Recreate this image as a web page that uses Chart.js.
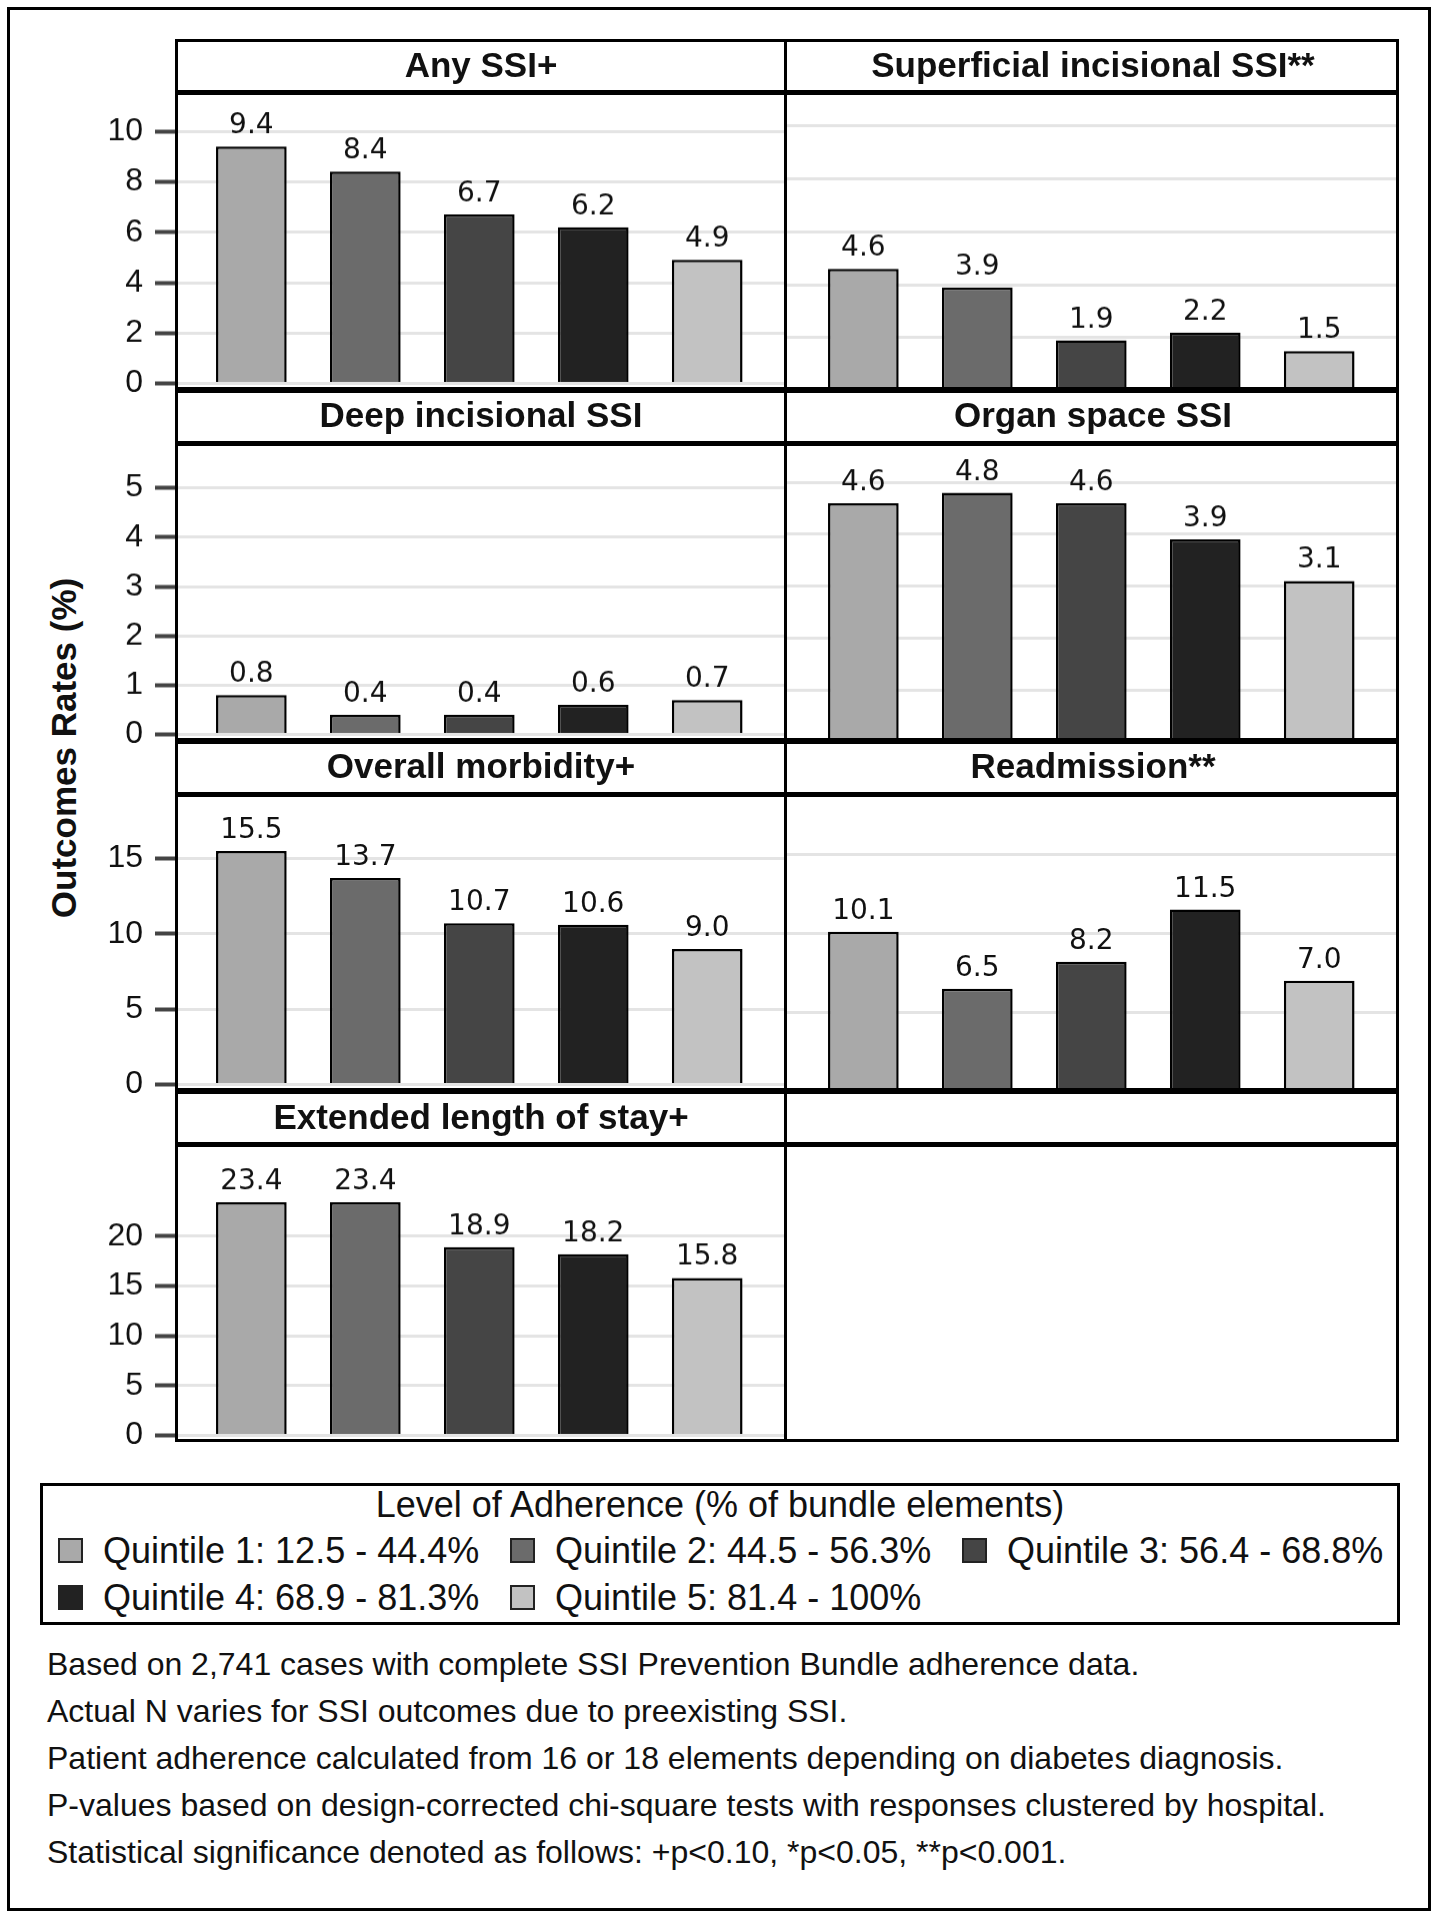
<!DOCTYPE html>
<html>
<head>
<meta charset="utf-8">
<script src="https://cdn.jsdelivr.net/npm/chart.js@4.4.1/dist/chart.umd.min.js"></script>
<style>
  body { margin: 0; background: #fff; font-family: "Liberation Sans", Arial, sans-serif; color: #111; }
  #page { position: relative; width: 1440px; height: 1920px; overflow: hidden; }
  .frame { position: absolute; border: 3px solid #000; box-sizing: border-box; pointer-events: none; z-index: 2; }
  .head { position: absolute; box-sizing: border-box; border-bottom: 5px solid #000; display: flex;
          align-items: center; justify-content: center; font-weight: bold; font-size: 35px; z-index: 2; }
  .holder { position: absolute; z-index: 1; }
  .ytitle { position: absolute; width: 500px; text-align: center; font-weight: bold; font-size: 35px;
            transform: translate(-50%, -50%) rotate(-90deg); white-space: nowrap; }
  .legend { position: absolute; border: 3px solid #000; box-sizing: border-box; }
  .ltext { position: absolute; font-size: 36px; line-height: 36px; white-space: nowrap; }
  .swatch { position: absolute; width: 25px; height: 25px; box-sizing: border-box; border: 2px solid #222; }
  .note { position: absolute; left: 47px; font-size: 32px; line-height: 32px; white-space: nowrap; }
</style>
</head>
<body>
<div id="page"></div>
<script>
// data
const panelTitles = ['Any SSI+', 'Superficial incisional SSI**', 'Deep incisional SSI', 'Organ space SSI',
                     'Overall morbidity+', 'Readmission**', 'Extended length of stay+', ''];
const anySSI = [9.4, 8.4, 6.7, 6.2, 4.9];
const superficialSSI = [4.6, 3.9, 1.9, 2.2, 1.5];
const deepSSI = [0.8, 0.4, 0.4, 0.6, 0.7];
const organSpaceSSI = [4.6, 4.8, 4.6, 3.9, 3.1];
const overallMorbidity = [15.5, 13.7, 10.7, 10.6, 9.0];
const readmission = [10.1, 6.5, 8.2, 11.5, 7.0];
const extendedStay = [23.4, 23.4, 18.9, 18.2, 15.8];
const quintiles = ['Quintile 1: 12.5 - 44.4%', 'Quintile 2: 44.5 - 56.3%', 'Quintile 3: 56.4 - 68.8%',
                   'Quintile 4: 68.9 - 81.3%', 'Quintile 5: 81.4 - 100%'];
const rowMax = [11.15, 5.7, 18.6, 28.2];
const rowTicks = [[0, 2, 4, 6, 8, 10], [0, 1, 2, 3, 4, 5], [0, 5, 10, 15], [0, 5, 10, 15, 20]];
const legendTitle = 'Level of Adherence (% of bundle elements)';
const yTitle = 'Outcomes Rates (%)';
const footnotes = [
  'Based on 2,741 cases with complete SSI Prevention Bundle adherence data.',
  'Actual N varies for SSI outcomes due to preexisting SSI.',
  'Patient adherence calculated from 16 or 18 elements depending on diabetes diagnosis.',
  'P-values based on design-corrected chi-square tests with responses clustered by hospital.',
  'Statistical significance denoted as follows: +p<0.10, *p<0.05, **p<0.001.'
];

const seriesByPanel = [anySSI, superficialSSI, deepSSI, organSpaceSSI, overallMorbidity, readmission, extendedStay];
const barColors = ['#a9a9a9', '#6b6b6b', '#454545', '#222222', '#c2c2c2'];

Chart.defaults.font.family = '"Liberation Sans", Arial, sans-serif';
Chart.defaults.color = '#111';

// page geometry
const page = document.getElementById('page');
const colLeft = [175, 787];
const colWidth = 612;
const rowTop = [39, 389.75, 740.5, 1091.25];
const rowBottom = [389.75, 740.5, 1091.25, 1442];
const headerH = 56;
const axisW = 135;
const pad = 24;

function addDiv(cls, css, text) {
  const d = document.createElement('div');
  d.className = cls;
  Object.assign(d.style, css);
  if (text !== undefined) d.textContent = text;
  page.appendChild(d);
  return d;
}

// value printed above each bar
const valueLabels = {
  id: 'valueLabels',
  afterDatasetsDraw(chart) {
    const ctx = chart.ctx;
    const ds = chart.data.datasets[0];
    ctx.save();
    ctx.font = '28px "DejaVu Sans", sans-serif';
    ctx.fillStyle = '#111';
    ctx.textAlign = 'center';
    ctx.textBaseline = 'alphabetic';
    chart.getDatasetMeta(0).data.forEach((bar, i) => {
      ctx.fillText(ds.data[i].y.toFixed(1), bar.x, bar.y - 13);
    });
    ctx.restore();
  }
};

function makeChart(i, r, c) {
  const left = colLeft[c] - (c === 0 ? axisW : 0);
  const top = rowTop[r] + headerH - pad;
  const holder = addDiv('holder', {
    left: left + 'px', top: top + 'px',
    width: (colWidth + (c === 0 ? axisW : 0)) + 'px',
    height: (rowBottom[r] - rowTop[r] - headerH + 2 * pad) + 'px'
  });
  const canvas = document.createElement('canvas');
  holder.appendChild(canvas);

  new Chart(canvas, {
    type: 'bar',
    data: {
      datasets: [{
        data: seriesByPanel[i].map((v, k) => ({ x: k, y: v })),
        backgroundColor: barColors,
        borderColor: '#000',
        borderWidth: 2.5,
        barPercentage: 0.62,
        categoryPercentage: 1
      }]
    },
    options: {
      responsive: true,
      maintainAspectRatio: false,
      animation: false,
      layout: { padding: { top: pad, bottom: pad, left: 0, right: 0 } },
      plugins: { legend: { display: false }, tooltip: { enabled: false } },
      scales: {
        x: {
          type: 'linear', min: -0.67, max: 4.70, offset: false, display: false,
          afterBuildTicks: s => { s.ticks = seriesByPanel[i].map((v, k) => ({ value: k })); }
        },
        y: {
          min: 0,
          max: rowMax[r],
          afterBuildTicks: s => { s.ticks = rowTicks[r].map(v => ({ value: v })); },
          afterFit: s => { s.width = c === 0 ? axisW : 0; },
          ticks: { display: c === 0, color: '#111', font: { size: 32 }, padding: 12 },
          grid: { color: '#e4e4e4', lineWidth: 3, drawTicks: c === 0, tickLength: 20,
                  tickColor: '#444', tickWidth: 4 },
          border: { display: false }
        }
      }
    },
    plugins: [valueLabels]
  });
}

for (let r = 0; r < 4; r++) {
  for (let c = 0; c < 2; c++) {
    const i = r * 2 + c;
    const x = colLeft[c];
    const fr = addDiv('frame', { left: x + 'px', top: rowTop[r] + 'px', width: colWidth + 'px',
                                 height: (rowBottom[r] - rowTop[r]) + 'px' });
    if (c === 1) fr.style.borderLeft = 'none';
    addDiv('head', { left: x + 'px', top: rowTop[r] + 'px', width: colWidth + 'px', height: headerH + 'px' },
           panelTitles[i]);
    if (i < seriesByPanel.length) makeChart(i, r, c);
  }
}

// outer frame and axis title
addDiv('frame', { left: '7px', top: '7px', width: '1424px', height: '1904px' });
addDiv('ytitle', { left: '64px', top: '748px' }, yTitle);

// legend
addDiv('legend', { left: '40px', top: '1483px', width: '1360px', height: '142px' });
addDiv('ltext', { left: '40px', width: '1360px', textAlign: 'center', top: '1487px' }, legendTitle);
const legendX = [58, 510, 962];
quintiles.forEach((q, k) => {
  const row = Math.floor(k / 3), col = k % 3;
  const baseline = row === 0 ? 1563 : 1610;
  addDiv('swatch', { left: legendX[col] + 'px', top: (baseline - 25) + 'px', background: barColors[k] });
  addDiv('ltext', { left: (legendX[col] + 45) + 'px', top: (baseline - 30.5) + 'px' }, q);
});

// notes
footnotes.forEach((t, k) => {
  addDiv('note', { top: (1648 + k * 47) + 'px' }, t);
});
</script>
</body>
</html>
